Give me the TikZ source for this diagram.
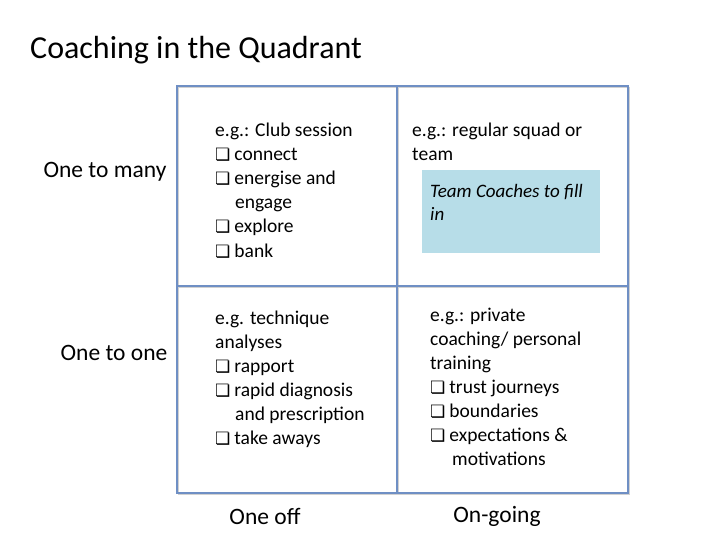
\documentclass[tikz,border=0pt]{standalone}
\usepackage{fontspec}
\setmainfont{Carlito}
\newfontfamily\djv{DejaVu Sans}
\newcommand{\cbx}{{\djv\fontsize{17}{17}\selectfont\char"274F}\hspace{4pt}}
\definecolor{gridc}{HTML}{6F8FC4}
\definecolor{teamc}{HTML}{B7DDE8}
\tikzset{txt/.style={anchor=base west,inner sep=0pt,font=\fontsize{19.5}{22}\selectfont},
 lab/.style={anchor=base,inner sep=0pt,font=\fontsize{23.5}{26}\selectfont},
 gl/.style={draw=gridc,line width=1.8pt},
 sh/.style={draw=black!18,line width=1.8pt}}
\begin{document}
\begin{tikzpicture}[x=1pt,y=-1pt]
\useasboundingbox (0,0) rectangle (720,540);
\node[anchor=base west,inner sep=0pt,font=\fontsize{32}{36}\selectfont] (title) at (30,59) {Coaching in the Quadrant};
% grid shadow
\draw[sh] (178.5,87.5) rectangle (629.5,494.5);
\draw[sh] (398.5,87.5) -- (398.5,494.5);
\draw[sh] (178.5,287.5) -- (629.5,287.5);
% grid
\draw[gl] (177,86) rectangle (628,493);
\draw[gl] (397,86) -- (397,493);
\draw[gl] (177,286) -- (628,286);
% blue box
\fill[teamc] (422,170) rectangle (600,253);
\node[txt,font=\itshape\fontsize{19}{22}\selectfont] (t1) at (430,198) {Team Coaches to fill};
\node[txt,font=\itshape\fontsize{19}{22}\selectfont] (t2) at (430,221) {in};
% TL
\node[txt] (a1) at (215,137) {e.g.: Club session};
\node[txt] (a2) at (215,161) {\cbx connect};
\node[txt] (a3) at (215,185) {\cbx energise and};
\node[txt] (a4) at (235,209) {engage};
\node[txt] (a5) at (215,233) {\cbx explore};
\node[txt] (a6) at (215,257) {\cbx bank};
% TR
\node[txt] (b1) at (412,137) {e.g.: regular squad or};
\node[txt] (b2) at (412,161) {team};
% BL
\node[txt] (c1) at (215,324) {e.g. technique};
\node[txt] (c2) at (215,348) {analyses};
\node[txt] (c3) at (215,372) {\cbx rapport};
\node[txt] (c4) at (215,396) {\cbx rapid diagnosis};
\node[txt] (c5) at (235,420) {and prescription};
\node[txt] (c6) at (215,444) {\cbx take aways};
% BR
\node[txt] (d1) at (430,321) {e.g.: private};
\node[txt] (d2) at (430,345) {coaching/ personal};
\node[txt] (d3) at (430,369) {training};
\node[txt] (d4) at (430,393) {\cbx trust journeys};
\node[txt] (d5) at (430,417) {\cbx boundaries};
\node[txt] (d6) at (430,441) {\cbx expectations \&};
\node[txt] (d7) at (452,465) {motivations};
% labels
\node[lab] (l1) at (105,178) {One to many};
\node[lab] (l2) at (114,360) {One to one};
\node[lab] (l3) at (265,524) {One off};
\node[lab] (l4) at (497,522) {On-going};
\end{tikzpicture}
\end{document}
